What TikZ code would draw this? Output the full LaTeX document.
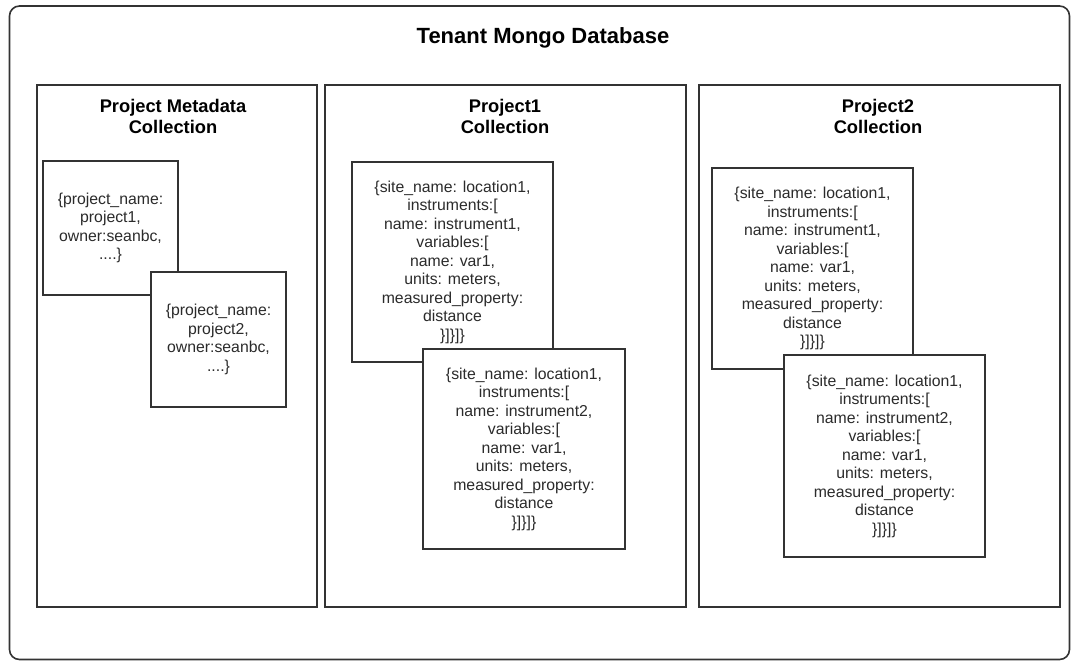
\documentclass[tikz,border=0pt]{standalone}
\usepackage{fontspec}
\setmainfont{Liberation Sans}
\usepackage{xcolor}
\usepackage{tikz}
\definecolor{edge}{HTML}{333333}
\definecolor{ink}{HTML}{2B2B2B}
\tikzset{
  outer/.style={draw=edge, line width=1.6pt, rounded corners=10pt},
  colbox/.style={draw=edge, line width=2pt, fill=white, inner sep=0pt},
  docbox/.style={draw=edge, line width=2pt, fill=white, inner sep=0pt, align=center,
    text=ink, font=\fontsize{15.8}{18.5}\selectfont},
  head/.style={text=black, align=center, font=\bfseries\fontsize{18.3}{21}\selectfont},
  dbhead/.style={text=black, font=\bfseries\fontsize{22}{26}\selectfont},
}
\newcommand{\sitedoc}[1]{\{site\_name: location1,\\instruments:[\\name: #1,\\variables:[\\name: var1,\\units: meters,\\measured\_property:\\distance\\\}]\}]\}}

\begin{document}
\begin{tikzpicture}[x=1pt,y=-1pt]
  \useasboundingbox (0,0) rectangle (1071,661);
  \draw[outer] (9.5,6) rectangle (1069.5,659.5);
  \node[dbhead] (db) at (543,38) {Tenant Mongo Database};

  % collections
  \node[colbox, minimum width=280pt, minimum height=522pt] (meta) at (177,346) {};
  \node[colbox, minimum width=361pt, minimum height=522pt] (proj1) at (505.5,346) {};
  \node[colbox, minimum width=361pt, minimum height=522pt] (proj2) at (879.5,346) {};
  \node[head] (metahead) at (173,116.5) {Project Metadata\\Collection};
  \node[head] (proj1head) at (505,116.5) {Project1\\Collection};
  \node[head] (proj2head) at (878,116.5) {Project2\\Collection};

  % documents
  \node[docbox, minimum width=135pt, minimum height=134pt] (meta1) at (110.5,228)
    {\{project\_name:\\project1,\\owner:seanbc,\\....\}};
  \node[docbox, minimum width=135pt, minimum height=135pt] (meta2) at (218.5,339.5)
    {\{project\_name:\\project2,\\owner:seanbc,\\....\}};
  \node[docbox, minimum width=201pt, minimum height=200pt] (p1a) at (452.5,262) {\sitedoc{instrument1}};
  \node[docbox, minimum width=202pt, minimum height=200pt] (p1b) at (524,449) {\sitedoc{instrument2}};
  \node[docbox, minimum width=201pt, minimum height=201pt] (p2a) at (812.5,268.5) {\sitedoc{instrument1}};
  \node[docbox, minimum width=201pt, minimum height=202pt] (p2b) at (884.5,456) {\sitedoc{instrument2}};
\end{tikzpicture}
\end{document}
